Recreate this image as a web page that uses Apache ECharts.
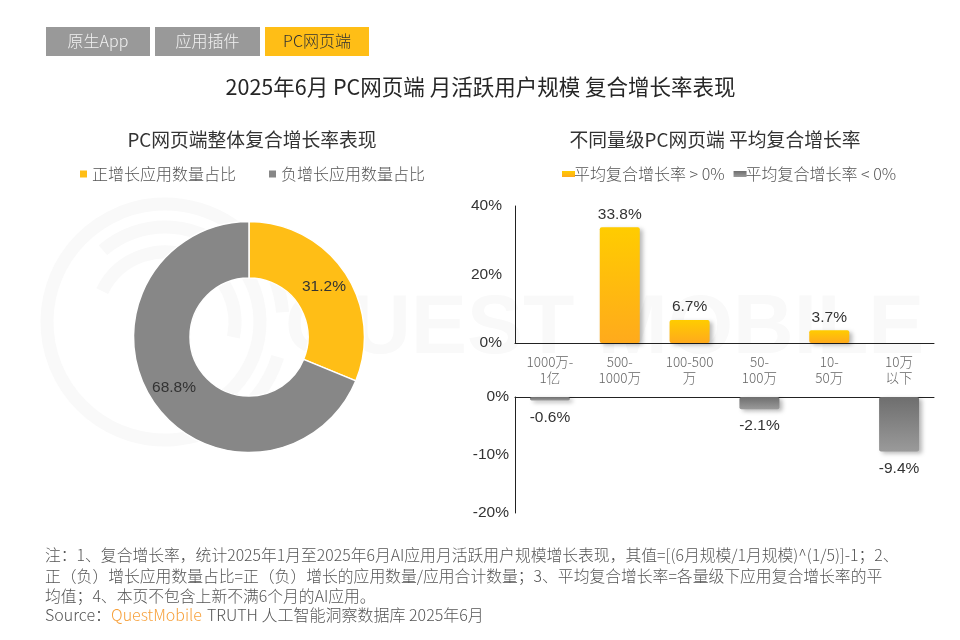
<!DOCTYPE html>
<html>
<head>
<meta charset="utf-8">
<style>
  html, body { margin: 0; padding: 0; background: #fff; }
  #main { width: 960px; height: 640px; }
</style>
<script src="https://cdn.jsdelivr.net/npm/echarts@6/dist/echarts.min.js"></script>
</head>
<body>
<div id="main"></div>
<script>
// data
var tabs = ['原生App', '应用插件', 'PC网页端'];
var pieNames = ['正增长应用数量占比', '负增长应用数量占比'];
var pieValues = [31.2, 68.8];
var sizeCategories = ['1000万-\n1亿', '500-\n1000万', '100-500\n万', '50-\n100万', '10-\n50万', '10万\n以下'];
var positiveName = '平均复合增长率 > 0%';
var negativeName = '平均复合增长率 < 0%';
var positiveValues = [null, 33.8, 6.7, null, 3.7, null];
var negativeValues = [-0.6, null, null, -2.1, null, -9.4];
var noteLines = [
  '注：1、复合增长率，统计2025年1月至2025年6月AI应用月活跃用户规模增长表现，其值=[(6月规模/1月规模)^(1/5)]-1；2、',
  '正（负）增长应用数量占比=正（负）增长的应用数量/应用合计数量；3、平均复合增长率=各量级下应用复合增长率的平',
  '均值；4、本页不包含上新不满6个月的AI应用。'
];

var FONT = '"Noto Sans CJK SC", "Noto Sans", sans-serif';
var NUM_FONT = '"Liberation Sans", Arial, sans-serif';
var YELLOW = '#FFBE16';
var GREY = '#878787';

function barStyle(topColor, bottomColor) {
  return {
    color: new echarts.graphic.LinearGradient(0, 0, 0, 1, [
      { offset: 0, color: topColor },
      { offset: 1, color: bottomColor }
    ]),
    borderRadius: 2,
    shadowColor: 'rgba(0,0,0,0.28)',
    shadowBlur: 4,
    shadowOffsetX: 3,
    shadowOffsetY: 2
  };
}

// tabs at the top, with the faint watermark behind everything
var graphics = [];
var tabX = [46, 155, 265];
var tabW = [104, 105, 104];
tabs.forEach(function (t, i) {
  var on = i === 2;
  graphics.push({
    type: 'rect', left: tabX[i], top: 27,
    shape: { width: tabW[i], height: 29 },
    style: { fill: on ? YELLOW : '#999999' }
  });
  graphics.push({
    type: 'text', x: tabX[i] + tabW[i] / 2, y: 41,
    style: {
      text: t, fill: on ? '#333333' : '#f2f2f2', font: '300 16px ' + FONT,
      align: 'center', verticalAlign: 'middle'
    }
  });
});
[[118, 0.3, 4.9], [95, 4.0, 6.0], [70, 3.6, 5.2]].forEach(function (r) {
  graphics.push({
    type: 'arc', z: -1,
    shape: { cx: 165, cy: 322, r: r[0], startAngle: r[1], endAngle: r[2] + 1.3 },
    style: { stroke: '#f9f9f9', fill: null, lineWidth: 13 }
  });
});
graphics.push({
  type: 'text', z: -1, x: 285, y: 330,
  style: {
    text: 'QUEST MOBILE', fill: '#f9f9f9', font: 'bold 84px ' + NUM_FONT,
    verticalAlign: 'middle'
  }
});

var myChart = echarts.init(document.getElementById('main'));
myChart.setOption({
  backgroundColor: '#fff',
  animation: false,
  title: [
    {
      text: '2025年6月 PC网页端 月活跃用户规模 复合增长率表现',
      left: 475.5, top: 71, textAlign: 'center',
      textStyle: { fontFamily: FONT, fontSize: 21.5, fontWeight: 400, color: '#262626' }
    },
    {
      text: 'PC网页端整体复合增长率表现',
      left: 247, top: 125, textAlign: 'center',
      textStyle: { fontFamily: FONT, fontSize: 18.8, fontWeight: 400, color: '#333' }
    },
    {
      text: '不同量级PC网页端 平均复合增长率',
      left: 710, top: 125, textAlign: 'center',
      textStyle: { fontFamily: FONT, fontSize: 18.8, fontWeight: 400, color: '#333' }
    },
    {
      text: noteLines.join('\n'),
      left: 40, top: 540,
      textStyle: { fontFamily: FONT, fontSize: 15.8, fontWeight: 300, lineHeight: 20.5, color: '#555' }
    },
    {
      text: '{a|Source：}{b|QuestMobile} {a|TRUTH 人工智能洞察数据库 2025年6月}',
      left: 40, top: 601,
      textStyle: {
        rich: {
          a: { fontFamily: FONT, fontSize: 16, fontWeight: 300, color: '#555' },
          b: { fontFamily: FONT, fontSize: 16, fontWeight: 300, color: '#F7A13C' }
        }
      }
    }
  ],
  legend: [
    {
      data: pieNames, left: 73, top: 161, itemGap: 31,
      icon: 'rect', itemWidth: 9, itemHeight: 9,
      selectedMode: false,
      textStyle: { fontFamily: FONT, fontSize: 16, fontWeight: 300, color: '#555', padding: [0, 0, 0, -1] }
    },
    {
      data: [positiveName, negativeName], left: 557, top: 161, itemGap: 9,
      icon: 'rect', itemWidth: 13, itemHeight: 6,
      selectedMode: false,
      itemStyle: { shadowBlur: 0, shadowOffsetX: 0, shadowOffsetY: 0 },
      textStyle: { fontFamily: FONT, fontSize: 16, fontWeight: 300, color: '#555', padding: [0, 0, 0, -6] }
    }
  ],
  grid: [
    { left: 515, top: 206, width: 419, height: 137 },
    { left: 515, top: 397, width: 419, height: 116 }
  ],
  xAxis: [
    {
      gridIndex: 0, type: 'category', data: sizeCategories,
      axisTick: { show: false },
      axisLine: { lineStyle: { color: '#222', width: 1 } },
      axisLabel: {
        interval: 0, margin: 11, lineHeight: 16,
        fontFamily: FONT, fontSize: 13.5, fontWeight: 300, color: '#666'
      }
    },
    {
      gridIndex: 1, type: 'category', data: sizeCategories, position: 'top',
      axisTick: { show: false },
      axisLabel: { show: false },
      axisLine: { lineStyle: { color: '#222', width: 1 } }
    }
  ],
  yAxis: [
    {
      gridIndex: 0, type: 'value', min: 0, max: 40, interval: 20,
      splitLine: { show: false },
      axisLine: { show: true, lineStyle: { color: '#222', width: 1 } },
      axisTick: { show: false },
      axisLabel: { formatter: '{value}%', margin: 13, fontFamily: NUM_FONT, fontSize: 15.5, color: '#333' }
    },
    {
      gridIndex: 1, type: 'value', min: -20, max: 0, interval: 10,
      splitLine: { show: false },
      axisLine: { show: true, lineStyle: { color: '#222', width: 1 } },
      axisTick: { show: false },
      axisLabel: {
        formatter: '{value}%', margin: 6, padding: [0, 0, 4, 0],
        fontFamily: NUM_FONT, fontSize: 15.5, color: '#333'
      }
    }
  ],
  series: [
    {
      type: 'pie',
      center: [249, 337],
      radius: [59, 115.5],
      startAngle: 90,
      data: [
        { name: pieNames[0], value: pieValues[0], itemStyle: { color: YELLOW } },
        { name: pieNames[1], value: pieValues[1], itemStyle: { color: GREY } }
      ],
      itemStyle: { borderColor: '#fff', borderWidth: 1.5 },
      label: {
        position: 'inside',
        formatter: function (p) { return p.value.toFixed(1) + '%'; },
        fontFamily: NUM_FONT, fontSize: 15.5, color: '#333'
      },
      labelLine: { show: false }
    },
    {
      name: positiveName, type: 'bar', xAxisIndex: 0, yAxisIndex: 0,
      data: positiveValues, barWidth: 40,
      itemStyle: barStyle('#FFCC00', '#FFAA1C'),
      label: {
        show: true, position: 'top', distance: 5,
        formatter: function (p) { return p.value.toFixed(1) + '%'; },
        fontFamily: NUM_FONT, fontSize: 15.5, color: '#333'
      }
    },
    {
      name: negativeName, type: 'bar', xAxisIndex: 1, yAxisIndex: 1,
      data: negativeValues, barWidth: 40,
      itemStyle: barStyle('#6E6E6E', '#9A9A9A'),
      label: {
        show: true, position: 'bottom', distance: 9,
        formatter: function (p) { return p.value.toFixed(1) + '%'; },
        fontFamily: NUM_FONT, fontSize: 15.5, color: '#333'
      }
    }
  ],
  graphic: graphics
});
</script>
</body>
</html>
